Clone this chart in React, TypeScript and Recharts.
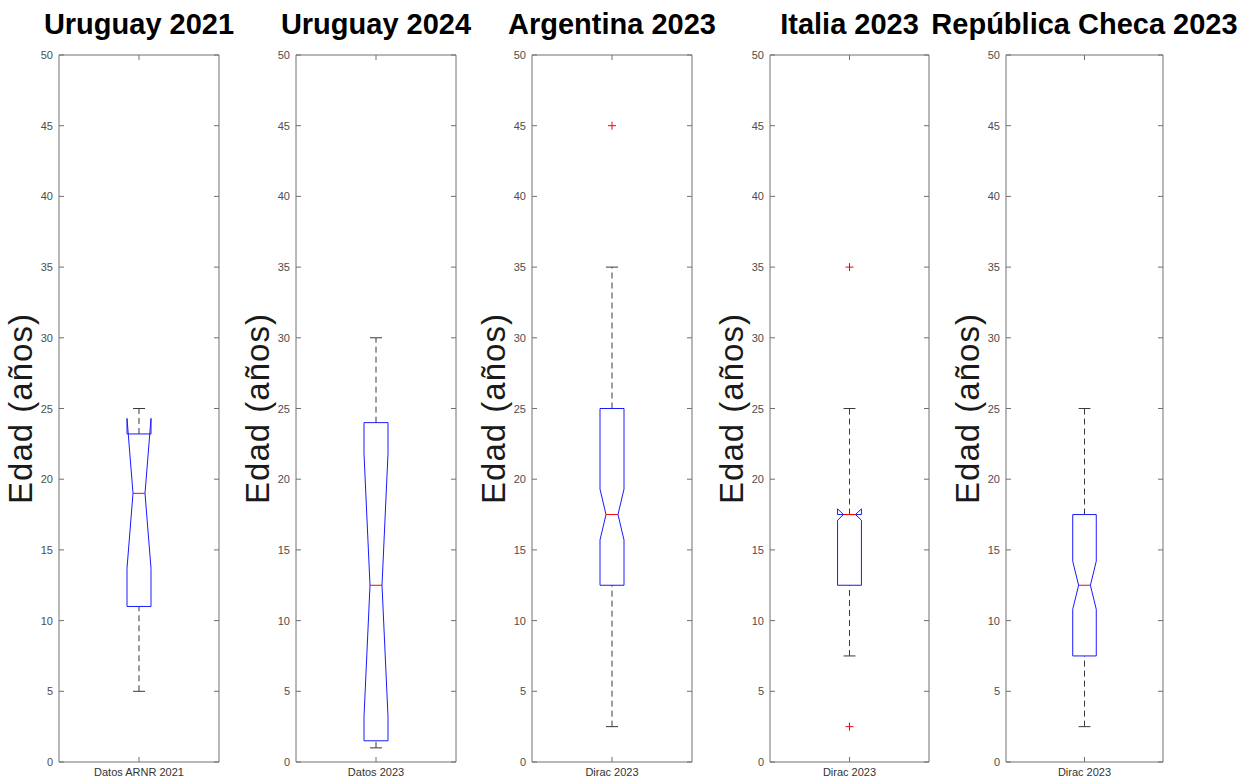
import React from 'react';
import { ComposedChart, Line, Scatter, XAxis, YAxis, ReferenceArea } from 'recharts';

// one box per panel
const titles = ['Uruguay 2021', 'Uruguay 2024', 'Argentina 2023', 'Italia 2023', 'República Checa 2023'];
const groupLabels = ['Datos ARNR 2021', 'Datos 2023', 'Dirac 2023', 'Dirac 2023', 'Dirac 2023'];
const whiskerLow = [5, 1, 2.5, 7.5, 2.5];
const quartile1 = [11, 1.5, 12.5, 12.5, 7.5];
const medians = [19, 12.5, 17.5, 17.5, 12.5];
const quartile3 = [23.2, 24, 25, 17.5, 17.5];
const whiskerHigh = [25, 30, 35, 25, 25];
const notchLow = [13.7, 3.2, 15.7, 17.1, 10.8];
const notchHigh = [24.3, 21.8, 19.3, 17.9, 14.2];
const outliers: number[][] = [[], [], [45], [35, 2.5], []];
const yTicks = [0, 5, 10, 15, 20, 25, 30, 35, 40, 45, 50];
const yLabel = 'Edad (años)';

// layout
const PLOT_LEFT = [59, 296, 532, 770, 1006];
const PLOT_W = [160, 160, 160, 159, 157];
const TOP = 55;
const BOTTOM = 762;
const HEIGHT = 781;
const Y_AXIS_W = 59;
const PLOT_H = BOTTOM - TOP;
const BOX = 0.075;
const NOTCH = 0.0375;
const CAP = 0.0375;

const AXIS = '#707070';
const BLUE = '#1a1aff';
const RED = '#ff0000';
const WHISKER = '#3a3a3a';
const FONT = '"Liberation Sans", Arial, sans-serif';

const YTick = ({ x, y, payload, plotW }: any) => (
	<g>
		<text x={x - 6} y={y} dy={4} textAnchor="end" fontSize={11} fill="#4d4d4d">{payload.value}</text>
		<line x1={x} x2={x + 5} y1={y} y2={y} stroke={AXIS} />
		<line x1={x + plotW - 5} x2={x + plotW} y1={y} y2={y} stroke={AXIS} />
	</g>
);

const XTick = ({ x, y, label }: any) => (
	<g>
		<text x={x} y={y + 14} textAnchor="middle" fontSize={11} fill="#333">{label}</text>
		<line x1={x} x2={x} y1={y} y2={y - 5} stroke={AXIS} />
		<line x1={x} x2={x} y1={y - PLOT_H} y2={y - PLOT_H + 5} stroke={AXIS} />
	</g>
);

const Plus = ({ cx, cy }: any) => (
	<g>
		<line x1={cx - 4} x2={cx + 4} y1={cy} y2={cy} stroke={RED} />
		<line x1={cx} x2={cx} y1={cy - 4} y2={cy + 4} stroke={RED} />
	</g>
);

const Panel: React.FC<{ i: number }> = ({ i }) => {
	const plotW = PLOT_W[i];
	const q1 = quartile1[i];
	const q3 = quartile3[i];
	const med = medians[i];
	const nl = notchLow[i];
	const nh = notchHigh[i];
	const lo = whiskerLow[i];
	const hi = whiskerHigh[i];

	// notched outline, same path order as matlab's boxplot
	const outline = [
		{ x: 1 - BOX, y: q1 },
		{ x: 1 - BOX, y: nl },
		{ x: 1 - NOTCH, y: med },
		{ x: 1 - BOX, y: nh },
		{ x: 1 - BOX, y: q3 },
		{ x: 1 + BOX, y: q3 },
		{ x: 1 + BOX, y: nh },
		{ x: 1 + NOTCH, y: med },
		{ x: 1 + BOX, y: nl },
		{ x: 1 + BOX, y: q1 },
		{ x: 1 - BOX, y: q1 },
	];
	const upperWhisker = [{ x: 1, y: q3 }, { x: 1, y: hi }];
	const lowerWhisker = [{ x: 1, y: lo }, { x: 1, y: q1 }];
	const upperCap = [{ x: 1 - CAP, y: hi }, { x: 1 + CAP, y: hi }];
	const lowerCap = [{ x: 1 - CAP, y: lo }, { x: 1 + CAP, y: lo }];
	const medianLine = [{ x: 1 - NOTCH, y: med }, { x: 1 + NOTCH, y: med }];
	const outlierPts = outliers[i].map((v) => ({ x: 1, y: v }));

	const center = PLOT_LEFT[i] + plotW / 2;

	return (
		<>
			<div
				style={{
					position: 'absolute',
					left: center - 200,
					width: 400,
					top: 10,
					textAlign: 'center',
					fontSize: 29,
					lineHeight: '29px',
					fontWeight: 'bold',
					whiteSpace: 'nowrap',
					color: '#000',
				}}
			>
				{titles[i]}
			</div>
			<div style={{ position: 'absolute', left: PLOT_LEFT[i] - Y_AXIS_W, top: 0 }}>
				<ComposedChart
					width={Y_AXIS_W + plotW + 4}
					height={HEIGHT}
					margin={{ top: TOP, right: 4, bottom: 0, left: 0 }}
				>
					<XAxis
						type="number"
						dataKey="x"
						domain={[0.5, 1.5]}
						ticks={[1]}
						height={HEIGHT - BOTTOM}
						axisLine={false}
						tickLine={false}
						tickSize={0}
						tickMargin={0}
						tick={(p: any) => <XTick {...p} label={groupLabels[i]} />}
					/>
					<YAxis
						type="number"
						domain={[0, 50]}
						ticks={yTicks}
						interval={0}
						width={Y_AXIS_W}
						axisLine={false}
						tickLine={false}
						tickSize={0}
						tickMargin={0}
						tick={(p: any) => <YTick {...p} plotW={plotW} />}
						label={() => (
							<text
								x={32}
								y={(TOP + BOTTOM) / 2}
								transform={`rotate(-90 32 ${(TOP + BOTTOM) / 2})`}
								textAnchor="middle"
								fontSize={33}
								letterSpacing={1}
								fill="#1a1a1a"
							>
								{yLabel}
							</text>
						)}
					/>
					<ReferenceArea x1={0.5} x2={1.5} y1={0} y2={50} fill="none" stroke={AXIS} strokeWidth={1} />
					<Line data={upperWhisker} dataKey="y" stroke={WHISKER} strokeDasharray="6 4" dot={false} activeDot={false} isAnimationActive={false} />
					<Line data={lowerWhisker} dataKey="y" stroke={WHISKER} strokeDasharray="6 4" dot={false} activeDot={false} isAnimationActive={false} />
					<Line data={upperCap} dataKey="y" stroke={WHISKER} dot={false} activeDot={false} isAnimationActive={false} />
					<Line data={lowerCap} dataKey="y" stroke={WHISKER} dot={false} activeDot={false} isAnimationActive={false} />
					<Line data={outline} dataKey="y" stroke={BLUE} dot={false} activeDot={false} isAnimationActive={false} />
					<Line data={medianLine} dataKey="y" stroke={RED} dot={false} activeDot={false} isAnimationActive={false} />
					{outlierPts.length > 0 && (
						<Scatter data={outlierPts} dataKey="y" shape={<Plus />} isAnimationActive={false} />
					)}
				</ComposedChart>
			</div>
		</>
	);
};

const App: React.FC = () => (
	<div
		style={{
			position: 'absolute',
			left: 0,
			top: 0,
			width: 1248,
			height: 781,
			background: '#fff',
			fontFamily: FONT,
		}}
	>
		{titles.map((t, i) => (
			<Panel key={t} i={i} />
		))}
	</div>
);

export default App;
